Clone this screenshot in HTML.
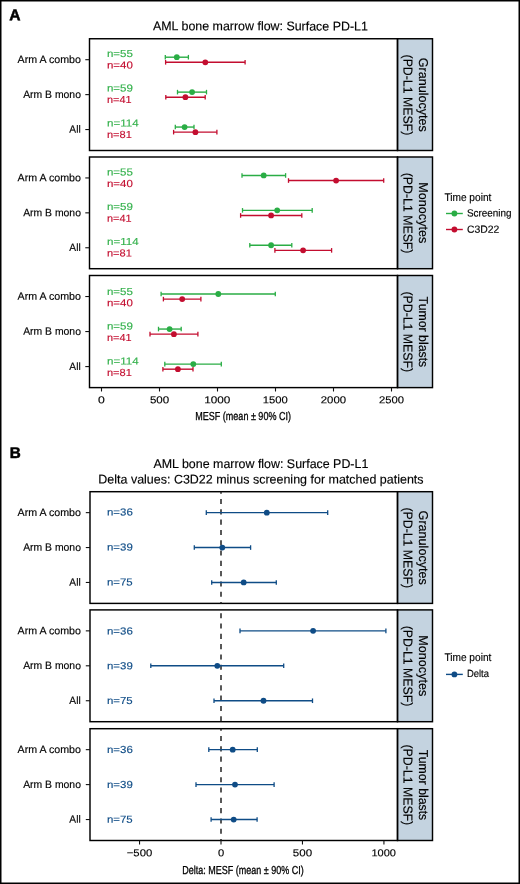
<!DOCTYPE html>
<html><head><meta charset="utf-8"><style>
html,body{margin:0;padding:0;background:#fff;}
svg{display:block;will-change:transform;}
text{font-family:"Liberation Sans",sans-serif;}
</style></head><body>
<svg width="520" height="884" viewBox="0 0 520 884" font-family="Liberation Sans, sans-serif">
<rect x="0" y="0" width="520" height="884" fill="#fff" stroke="#000" stroke-width="3"/>
<text transform="translate(9.36,20.25) rotate(0.03)" font-size="15.6" font-weight="bold" fill="#000" textLength="11.32" lengthAdjust="spacingAndGlyphs" stroke="#000" stroke-width="0.55" stroke-linejoin="round">A</text>
<text transform="translate(152.94,30.3) rotate(0.03)" font-size="12.6" font-weight="normal" fill="#000" textLength="214.97" lengthAdjust="spacingAndGlyphs" stroke="#000" stroke-width="0.15">AML bone marrow flow: Surface PD-L1</text>
<rect x="397.5" y="38.75" width="35" height="111.75" fill="#c4d3e0" stroke="#000" stroke-width="1.45"/>
<rect x="89.5" y="38.75" width="308" height="111.75" fill="none" stroke="#000" stroke-width="1.45"/>
<line x1="85.3" y1="59.7" x2="89.5" y2="59.7" stroke="#111" stroke-width="1.1"/>
<text transform="translate(17.55,63) rotate(0.03)" font-size="10.7" font-weight="normal" fill="#000" textLength="63.4" lengthAdjust="spacingAndGlyphs" stroke="#000" stroke-width="0.15">Arm A combo</text>
<line x1="85.3" y1="94.62" x2="89.5" y2="94.62" stroke="#111" stroke-width="1.1"/>
<text transform="translate(23.15,97.92) rotate(0.03)" font-size="10.7" font-weight="normal" fill="#000" textLength="57.79" lengthAdjust="spacingAndGlyphs" stroke="#000" stroke-width="0.15">Arm B mono</text>
<line x1="85.3" y1="129.55" x2="89.5" y2="129.55" stroke="#111" stroke-width="1.1"/>
<text transform="translate(69.35,132.85) rotate(0.03)" font-size="10.7" font-weight="normal" fill="#000" textLength="11.33" lengthAdjust="spacingAndGlyphs" stroke="#000" stroke-width="0.15">All</text>
<text transform="translate(419,57.64) rotate(90.03)" font-size="12.9" font-weight="normal" fill="#000" textLength="74.29" lengthAdjust="spacingAndGlyphs" stroke="#000" stroke-width="0.15">Granulocytes</text>
<text transform="translate(403.6,54.54) rotate(90.03)" font-size="12.9" font-weight="normal" fill="#000" textLength="80.7" lengthAdjust="spacingAndGlyphs" stroke="#000" stroke-width="0.15">(PD-L1 MESF)</text>
<line x1="165.3" y1="57.2" x2="188.4" y2="57.2" stroke="#2aad45" stroke-width="1.4"/>
<line x1="165.3" y1="54.9" x2="165.3" y2="59.5" stroke="#2aad45" stroke-width="1.3"/>
<line x1="188.4" y1="54.9" x2="188.4" y2="59.5" stroke="#2aad45" stroke-width="1.3"/>
<circle cx="176.8" cy="57.2" r="2.9" fill="#2aad45"/>
<line x1="165.6" y1="62.3" x2="245.1" y2="62.3" stroke="#c30d2f" stroke-width="1.4"/>
<line x1="165.6" y1="60" x2="165.6" y2="64.6" stroke="#c30d2f" stroke-width="1.3"/>
<line x1="245.1" y1="60" x2="245.1" y2="64.6" stroke="#c30d2f" stroke-width="1.3"/>
<circle cx="205.3" cy="62.3" r="2.9" fill="#c30d2f"/>
<line x1="177.5" y1="92.12" x2="206.5" y2="92.12" stroke="#2aad45" stroke-width="1.4"/>
<line x1="177.5" y1="89.83" x2="177.5" y2="94.42" stroke="#2aad45" stroke-width="1.3"/>
<line x1="206.5" y1="89.83" x2="206.5" y2="94.42" stroke="#2aad45" stroke-width="1.3"/>
<circle cx="192.1" cy="92.12" r="2.9" fill="#2aad45"/>
<line x1="165.8" y1="97.22" x2="205.2" y2="97.22" stroke="#c30d2f" stroke-width="1.4"/>
<line x1="165.8" y1="94.92" x2="165.8" y2="99.52" stroke="#c30d2f" stroke-width="1.3"/>
<line x1="205.2" y1="94.92" x2="205.2" y2="99.52" stroke="#c30d2f" stroke-width="1.3"/>
<circle cx="185.4" cy="97.22" r="2.9" fill="#c30d2f"/>
<line x1="175.3" y1="127.05" x2="194" y2="127.05" stroke="#2aad45" stroke-width="1.4"/>
<line x1="175.3" y1="124.75" x2="175.3" y2="129.35" stroke="#2aad45" stroke-width="1.3"/>
<line x1="194" y1="124.75" x2="194" y2="129.35" stroke="#2aad45" stroke-width="1.3"/>
<circle cx="184.6" cy="127.05" r="2.9" fill="#2aad45"/>
<line x1="173.6" y1="132.15" x2="216.9" y2="132.15" stroke="#c30d2f" stroke-width="1.4"/>
<line x1="173.6" y1="129.85" x2="173.6" y2="134.45" stroke="#c30d2f" stroke-width="1.3"/>
<line x1="216.9" y1="129.85" x2="216.9" y2="134.45" stroke="#c30d2f" stroke-width="1.3"/>
<circle cx="195.4" cy="132.15" r="2.9" fill="#c30d2f"/>
<text transform="translate(106.95,57.05) rotate(0.03)" font-size="10.2" font-weight="normal" fill="#34b14c" textLength="25.94" lengthAdjust="spacingAndGlyphs" stroke="#34b14c" stroke-width="0.15">n=55</text>
<text transform="translate(106.95,68.4) rotate(0.03)" font-size="10.2" font-weight="normal" fill="#c30d2f" textLength="25.94" lengthAdjust="spacingAndGlyphs" stroke="#c30d2f" stroke-width="0.15">n=40</text>
<text transform="translate(106.95,91.6) rotate(0.03)" font-size="10.2" font-weight="normal" fill="#34b14c" textLength="26" lengthAdjust="spacingAndGlyphs" stroke="#34b14c" stroke-width="0.15">n=59</text>
<text transform="translate(106.99,103.1) rotate(0.03)" font-size="10.2" font-weight="normal" fill="#c30d2f" textLength="24.58" lengthAdjust="spacingAndGlyphs" stroke="#c30d2f" stroke-width="0.15">n=41</text>
<text transform="translate(106.95,126.5) rotate(0.03)" font-size="10.2" font-weight="normal" fill="#34b14c" textLength="31.69" lengthAdjust="spacingAndGlyphs" stroke="#34b14c" stroke-width="0.15">n=114</text>
<text transform="translate(106.98,137.9) rotate(0.03)" font-size="10.2" font-weight="normal" fill="#c30d2f" textLength="24.85" lengthAdjust="spacingAndGlyphs" stroke="#c30d2f" stroke-width="0.15">n=81</text>
<rect x="397.5" y="157" width="35" height="111.7" fill="#c4d3e0" stroke="#000" stroke-width="1.45"/>
<rect x="89.5" y="157" width="308" height="111.7" fill="none" stroke="#000" stroke-width="1.45"/>
<line x1="85.3" y1="177.94" x2="89.5" y2="177.94" stroke="#111" stroke-width="1.1"/>
<text transform="translate(17.55,181.24) rotate(0.03)" font-size="10.7" font-weight="normal" fill="#000" textLength="63.4" lengthAdjust="spacingAndGlyphs" stroke="#000" stroke-width="0.15">Arm A combo</text>
<line x1="85.3" y1="212.85" x2="89.5" y2="212.85" stroke="#111" stroke-width="1.1"/>
<text transform="translate(23.15,216.15) rotate(0.03)" font-size="10.7" font-weight="normal" fill="#000" textLength="57.79" lengthAdjust="spacingAndGlyphs" stroke="#000" stroke-width="0.15">Arm B mono</text>
<line x1="85.3" y1="247.76" x2="89.5" y2="247.76" stroke="#111" stroke-width="1.1"/>
<text transform="translate(69.35,251.06) rotate(0.03)" font-size="10.7" font-weight="normal" fill="#000" textLength="11.33" lengthAdjust="spacingAndGlyphs" stroke="#000" stroke-width="0.15">All</text>
<text transform="translate(419,182.24) rotate(90.03)" font-size="12.9" font-weight="normal" fill="#000" textLength="61.16" lengthAdjust="spacingAndGlyphs" stroke="#000" stroke-width="0.15">Monocytes</text>
<text transform="translate(403.6,172.76) rotate(90.03)" font-size="12.9" font-weight="normal" fill="#000" textLength="80.7" lengthAdjust="spacingAndGlyphs" stroke="#000" stroke-width="0.15">(PD-L1 MESF)</text>
<line x1="242" y1="175.44" x2="285.6" y2="175.44" stroke="#2aad45" stroke-width="1.4"/>
<line x1="242" y1="173.14" x2="242" y2="177.74" stroke="#2aad45" stroke-width="1.3"/>
<line x1="285.6" y1="173.14" x2="285.6" y2="177.74" stroke="#2aad45" stroke-width="1.3"/>
<circle cx="263.7" cy="175.44" r="2.9" fill="#2aad45"/>
<line x1="288.5" y1="180.54" x2="383.7" y2="180.54" stroke="#c30d2f" stroke-width="1.4"/>
<line x1="288.5" y1="178.24" x2="288.5" y2="182.84" stroke="#c30d2f" stroke-width="1.3"/>
<line x1="383.7" y1="178.24" x2="383.7" y2="182.84" stroke="#c30d2f" stroke-width="1.3"/>
<circle cx="336.1" cy="180.54" r="2.9" fill="#c30d2f"/>
<line x1="242.5" y1="210.35" x2="312.2" y2="210.35" stroke="#2aad45" stroke-width="1.4"/>
<line x1="242.5" y1="208.05" x2="242.5" y2="212.65" stroke="#2aad45" stroke-width="1.3"/>
<line x1="312.2" y1="208.05" x2="312.2" y2="212.65" stroke="#2aad45" stroke-width="1.3"/>
<circle cx="277.2" cy="210.35" r="2.9" fill="#2aad45"/>
<line x1="240.6" y1="215.45" x2="301.8" y2="215.45" stroke="#c30d2f" stroke-width="1.4"/>
<line x1="240.6" y1="213.15" x2="240.6" y2="217.75" stroke="#c30d2f" stroke-width="1.3"/>
<line x1="301.8" y1="213.15" x2="301.8" y2="217.75" stroke="#c30d2f" stroke-width="1.3"/>
<circle cx="271.1" cy="215.45" r="2.9" fill="#c30d2f"/>
<line x1="249.8" y1="245.26" x2="291.8" y2="245.26" stroke="#2aad45" stroke-width="1.4"/>
<line x1="249.8" y1="242.96" x2="249.8" y2="247.56" stroke="#2aad45" stroke-width="1.3"/>
<line x1="291.8" y1="242.96" x2="291.8" y2="247.56" stroke="#2aad45" stroke-width="1.3"/>
<circle cx="271.1" cy="245.26" r="2.9" fill="#2aad45"/>
<line x1="274.9" y1="250.36" x2="331.6" y2="250.36" stroke="#c30d2f" stroke-width="1.4"/>
<line x1="274.9" y1="248.06" x2="274.9" y2="252.66" stroke="#c30d2f" stroke-width="1.3"/>
<line x1="331.6" y1="248.06" x2="331.6" y2="252.66" stroke="#c30d2f" stroke-width="1.3"/>
<circle cx="303.1" cy="250.36" r="2.9" fill="#c30d2f"/>
<text transform="translate(106.95,175.4) rotate(0.03)" font-size="10.2" font-weight="normal" fill="#34b14c" textLength="25.94" lengthAdjust="spacingAndGlyphs" stroke="#34b14c" stroke-width="0.15">n=55</text>
<text transform="translate(106.95,186.9) rotate(0.03)" font-size="10.2" font-weight="normal" fill="#c30d2f" textLength="25.94" lengthAdjust="spacingAndGlyphs" stroke="#c30d2f" stroke-width="0.15">n=40</text>
<text transform="translate(106.95,210) rotate(0.03)" font-size="10.2" font-weight="normal" fill="#34b14c" textLength="26" lengthAdjust="spacingAndGlyphs" stroke="#34b14c" stroke-width="0.15">n=59</text>
<text transform="translate(106.99,221.7) rotate(0.03)" font-size="10.2" font-weight="normal" fill="#c30d2f" textLength="24.58" lengthAdjust="spacingAndGlyphs" stroke="#c30d2f" stroke-width="0.15">n=41</text>
<text transform="translate(106.95,245.1) rotate(0.03)" font-size="10.2" font-weight="normal" fill="#34b14c" textLength="31.69" lengthAdjust="spacingAndGlyphs" stroke="#34b14c" stroke-width="0.15">n=114</text>
<text transform="translate(106.98,256.6) rotate(0.03)" font-size="10.2" font-weight="normal" fill="#c30d2f" textLength="24.85" lengthAdjust="spacingAndGlyphs" stroke="#c30d2f" stroke-width="0.15">n=81</text>
<rect x="397.5" y="275.5" width="35" height="112.1" fill="#c4d3e0" stroke="#000" stroke-width="1.45"/>
<rect x="89.5" y="275.5" width="308" height="112.1" fill="none" stroke="#000" stroke-width="1.45"/>
<line x1="85.3" y1="296.52" x2="89.5" y2="296.52" stroke="#111" stroke-width="1.1"/>
<text transform="translate(17.55,299.82) rotate(0.03)" font-size="10.7" font-weight="normal" fill="#000" textLength="63.4" lengthAdjust="spacingAndGlyphs" stroke="#000" stroke-width="0.15">Arm A combo</text>
<line x1="85.3" y1="331.55" x2="89.5" y2="331.55" stroke="#111" stroke-width="1.1"/>
<text transform="translate(23.15,334.85) rotate(0.03)" font-size="10.7" font-weight="normal" fill="#000" textLength="57.79" lengthAdjust="spacingAndGlyphs" stroke="#000" stroke-width="0.15">Arm B mono</text>
<line x1="85.3" y1="366.58" x2="89.5" y2="366.58" stroke="#111" stroke-width="1.1"/>
<text transform="translate(69.35,369.88) rotate(0.03)" font-size="10.7" font-weight="normal" fill="#000" textLength="11.33" lengthAdjust="spacingAndGlyphs" stroke="#000" stroke-width="0.15">All</text>
<text transform="translate(419,296.6) rotate(90.03)" font-size="12.9" font-weight="normal" fill="#000" textLength="70.61" lengthAdjust="spacingAndGlyphs" stroke="#000" stroke-width="0.15">Tumor blasts</text>
<text transform="translate(403.6,291.46) rotate(90.03)" font-size="12.9" font-weight="normal" fill="#000" textLength="80.7" lengthAdjust="spacingAndGlyphs" stroke="#000" stroke-width="0.15">(PD-L1 MESF)</text>
<line x1="161.1" y1="294.02" x2="275.3" y2="294.02" stroke="#2aad45" stroke-width="1.4"/>
<line x1="161.1" y1="291.72" x2="161.1" y2="296.32" stroke="#2aad45" stroke-width="1.3"/>
<line x1="275.3" y1="291.72" x2="275.3" y2="296.32" stroke="#2aad45" stroke-width="1.3"/>
<circle cx="218.3" cy="294.02" r="2.9" fill="#2aad45"/>
<line x1="163.4" y1="299.12" x2="200.9" y2="299.12" stroke="#c30d2f" stroke-width="1.4"/>
<line x1="163.4" y1="296.82" x2="163.4" y2="301.42" stroke="#c30d2f" stroke-width="1.3"/>
<line x1="200.9" y1="296.82" x2="200.9" y2="301.42" stroke="#c30d2f" stroke-width="1.3"/>
<circle cx="182.2" cy="299.12" r="2.9" fill="#c30d2f"/>
<line x1="158.5" y1="329.05" x2="181.2" y2="329.05" stroke="#2aad45" stroke-width="1.4"/>
<line x1="158.5" y1="326.75" x2="158.5" y2="331.35" stroke="#2aad45" stroke-width="1.3"/>
<line x1="181.2" y1="326.75" x2="181.2" y2="331.35" stroke="#2aad45" stroke-width="1.3"/>
<circle cx="169.6" cy="329.05" r="2.9" fill="#2aad45"/>
<line x1="150" y1="334.15" x2="197.9" y2="334.15" stroke="#c30d2f" stroke-width="1.4"/>
<line x1="150" y1="331.85" x2="150" y2="336.45" stroke="#c30d2f" stroke-width="1.3"/>
<line x1="197.9" y1="331.85" x2="197.9" y2="336.45" stroke="#c30d2f" stroke-width="1.3"/>
<circle cx="173.9" cy="334.15" r="2.9" fill="#c30d2f"/>
<line x1="164.8" y1="364.08" x2="221.3" y2="364.08" stroke="#2aad45" stroke-width="1.4"/>
<line x1="164.8" y1="361.78" x2="164.8" y2="366.38" stroke="#2aad45" stroke-width="1.3"/>
<line x1="221.3" y1="361.78" x2="221.3" y2="366.38" stroke="#2aad45" stroke-width="1.3"/>
<circle cx="193.3" cy="364.08" r="2.9" fill="#2aad45"/>
<line x1="162.9" y1="369.18" x2="193" y2="369.18" stroke="#c30d2f" stroke-width="1.4"/>
<line x1="162.9" y1="366.88" x2="162.9" y2="371.48" stroke="#c30d2f" stroke-width="1.3"/>
<line x1="193" y1="366.88" x2="193" y2="371.48" stroke="#c30d2f" stroke-width="1.3"/>
<circle cx="177.9" cy="369.18" r="2.9" fill="#c30d2f"/>
<text transform="translate(106.95,294.9) rotate(0.03)" font-size="10.2" font-weight="normal" fill="#34b14c" textLength="25.94" lengthAdjust="spacingAndGlyphs" stroke="#34b14c" stroke-width="0.15">n=55</text>
<text transform="translate(106.95,306.2) rotate(0.03)" font-size="10.2" font-weight="normal" fill="#c30d2f" textLength="25.94" lengthAdjust="spacingAndGlyphs" stroke="#c30d2f" stroke-width="0.15">n=40</text>
<text transform="translate(106.95,329.5) rotate(0.03)" font-size="10.2" font-weight="normal" fill="#34b14c" textLength="26" lengthAdjust="spacingAndGlyphs" stroke="#34b14c" stroke-width="0.15">n=59</text>
<text transform="translate(106.99,341) rotate(0.03)" font-size="10.2" font-weight="normal" fill="#c30d2f" textLength="24.58" lengthAdjust="spacingAndGlyphs" stroke="#c30d2f" stroke-width="0.15">n=41</text>
<text transform="translate(106.95,364.6) rotate(0.03)" font-size="10.2" font-weight="normal" fill="#34b14c" textLength="31.69" lengthAdjust="spacingAndGlyphs" stroke="#34b14c" stroke-width="0.15">n=114</text>
<text transform="translate(106.98,375.9) rotate(0.03)" font-size="10.2" font-weight="normal" fill="#c30d2f" textLength="24.85" lengthAdjust="spacingAndGlyphs" stroke="#c30d2f" stroke-width="0.15">n=81</text>
<line x1="101.5" y1="387.6" x2="101.5" y2="391.5" stroke="#111" stroke-width="1.1"/>
<text transform="translate(98.11,403.3) rotate(0.03)" font-size="10" font-weight="normal" fill="#000" textLength="6.79" lengthAdjust="spacingAndGlyphs" stroke="#000" stroke-width="0.15">0</text>
<line x1="159.5" y1="387.6" x2="159.5" y2="391.5" stroke="#111" stroke-width="1.1"/>
<text transform="translate(149.89,403.3) rotate(0.03)" font-size="10" font-weight="normal" fill="#000" textLength="19.26" lengthAdjust="spacingAndGlyphs" stroke="#000" stroke-width="0.15">500</text>
<line x1="217.5" y1="387.6" x2="217.5" y2="391.5" stroke="#111" stroke-width="1.1"/>
<text transform="translate(204.22,403.3) rotate(0.03)" font-size="10" font-weight="normal" fill="#000" textLength="26.15" lengthAdjust="spacingAndGlyphs" stroke="#000" stroke-width="0.15">1000</text>
<line x1="275.5" y1="387.6" x2="275.5" y2="391.5" stroke="#111" stroke-width="1.1"/>
<text transform="translate(262.81,403.3) rotate(0.03)" font-size="10" font-weight="normal" fill="#000" textLength="24.99" lengthAdjust="spacingAndGlyphs" stroke="#000" stroke-width="0.15">1500</text>
<line x1="333.5" y1="387.6" x2="333.5" y2="391.5" stroke="#111" stroke-width="1.1"/>
<text transform="translate(320.78,403.3) rotate(0.03)" font-size="10" font-weight="normal" fill="#000" textLength="25.32" lengthAdjust="spacingAndGlyphs" stroke="#000" stroke-width="0.15">2000</text>
<line x1="391.5" y1="387.6" x2="391.5" y2="391.5" stroke="#111" stroke-width="1.1"/>
<text transform="translate(378.94,403.3) rotate(0.03)" font-size="10" font-weight="normal" fill="#000" textLength="25.01" lengthAdjust="spacingAndGlyphs" stroke="#000" stroke-width="0.15">2500</text>
<text transform="translate(195.28,420.1) rotate(0.03)" font-size="11.6" font-weight="normal" fill="#000" textLength="95.68" lengthAdjust="spacingAndGlyphs" stroke="#000" stroke-width="0.3">MESF (mean ± 90% CI)</text>
<text transform="translate(444.4,200.5) rotate(0.03)" font-size="11.2" font-weight="normal" fill="#000" textLength="46.97" lengthAdjust="spacingAndGlyphs" stroke="#000" stroke-width="0.15">Time point</text>
<line x1="446" y1="213.5" x2="462.8" y2="213.5" stroke="#2aad45" stroke-width="1.4"/>
<circle cx="454.4" cy="213.5" r="2.9" fill="#2aad45"/>
<text transform="translate(466.95,216.5) rotate(0.03)" font-size="10.4" font-weight="normal" fill="#000" textLength="44.62" lengthAdjust="spacingAndGlyphs" stroke="#000" stroke-width="0.15">Screening</text>
<line x1="446" y1="229.5" x2="462.8" y2="229.5" stroke="#c30d2f" stroke-width="1.4"/>
<circle cx="454.4" cy="229.5" r="2.9" fill="#c30d2f"/>
<text transform="translate(466.88,232.8) rotate(0.03)" font-size="10.4" font-weight="normal" fill="#000" textLength="32.47" lengthAdjust="spacingAndGlyphs" stroke="#000" stroke-width="0.15">C3D22</text>
<text transform="translate(9.66,458.05) rotate(0.03)" font-size="15.4" font-weight="bold" fill="#000" textLength="11.01" lengthAdjust="spacingAndGlyphs" stroke="#000" stroke-width="0.55" stroke-linejoin="round">B</text>
<text transform="translate(153.44,468) rotate(0.03)" font-size="12.6" font-weight="normal" fill="#000" textLength="214.87" lengthAdjust="spacingAndGlyphs" stroke="#000" stroke-width="0.15">AML bone marrow flow: Surface PD-L1</text>
<text transform="translate(98.3,483.4) rotate(0.03)" font-size="12.6" font-weight="normal" fill="#000" textLength="325.23" lengthAdjust="spacingAndGlyphs" stroke="#000" stroke-width="0.15">Delta values: C3D22 minus screening for matched patients</text>
<rect x="397.5" y="491.7" width="35" height="111.7" fill="#c4d3e0" stroke="#000" stroke-width="1.45"/>
<rect x="90" y="491.7" width="307.5" height="111.7" fill="none" stroke="#000" stroke-width="1.45"/>
<line x1="85.8" y1="512.64" x2="90" y2="512.64" stroke="#111" stroke-width="1.1"/>
<text transform="translate(17.55,515.94) rotate(0.03)" font-size="10.7" font-weight="normal" fill="#000" textLength="63.4" lengthAdjust="spacingAndGlyphs" stroke="#000" stroke-width="0.15">Arm A combo</text>
<line x1="85.8" y1="547.55" x2="90" y2="547.55" stroke="#111" stroke-width="1.1"/>
<text transform="translate(23.15,550.85) rotate(0.03)" font-size="10.7" font-weight="normal" fill="#000" textLength="57.79" lengthAdjust="spacingAndGlyphs" stroke="#000" stroke-width="0.15">Arm B mono</text>
<line x1="85.8" y1="582.46" x2="90" y2="582.46" stroke="#111" stroke-width="1.1"/>
<text transform="translate(69.35,585.76) rotate(0.03)" font-size="10.7" font-weight="normal" fill="#000" textLength="11.33" lengthAdjust="spacingAndGlyphs" stroke="#000" stroke-width="0.15">All</text>
<text transform="translate(419,510.57) rotate(90.03)" font-size="12.9" font-weight="normal" fill="#000" textLength="74.29" lengthAdjust="spacingAndGlyphs" stroke="#000" stroke-width="0.15">Granulocytes</text>
<text transform="translate(403.6,507.46) rotate(90.03)" font-size="12.9" font-weight="normal" fill="#000" textLength="80.7" lengthAdjust="spacingAndGlyphs" stroke="#000" stroke-width="0.15">(PD-L1 MESF)</text>
<line x1="221.0" y1="491.7" x2="221.0" y2="603.4" stroke="#222" stroke-width="1.5" stroke-dasharray="5.1 5.2" stroke-dashoffset="3.0"/>
<line x1="206.3" y1="512.64" x2="327.7" y2="512.64" stroke="#0f4c86" stroke-width="1.4"/>
<line x1="206.3" y1="510.34" x2="206.3" y2="514.94" stroke="#0f4c86" stroke-width="1.3"/>
<line x1="327.7" y1="510.34" x2="327.7" y2="514.94" stroke="#0f4c86" stroke-width="1.3"/>
<circle cx="266.8" cy="512.64" r="2.9" fill="#0f4c86"/>
<line x1="194.3" y1="547.55" x2="250.6" y2="547.55" stroke="#0f4c86" stroke-width="1.4"/>
<line x1="194.3" y1="545.25" x2="194.3" y2="549.85" stroke="#0f4c86" stroke-width="1.3"/>
<line x1="250.6" y1="545.25" x2="250.6" y2="549.85" stroke="#0f4c86" stroke-width="1.3"/>
<circle cx="222.3" cy="547.55" r="2.9" fill="#0f4c86"/>
<line x1="211.7" y1="582.46" x2="276.3" y2="582.46" stroke="#0f4c86" stroke-width="1.4"/>
<line x1="211.7" y1="580.16" x2="211.7" y2="584.76" stroke="#0f4c86" stroke-width="1.3"/>
<line x1="276.3" y1="580.16" x2="276.3" y2="584.76" stroke="#0f4c86" stroke-width="1.3"/>
<circle cx="243.7" cy="582.46" r="2.9" fill="#0f4c86"/>
<text transform="translate(106.96,515.6) rotate(0.03)" font-size="10.2" font-weight="normal" fill="#0f4c86" textLength="25.79" lengthAdjust="spacingAndGlyphs" stroke="#0f4c86" stroke-width="0.15">n=36</text>
<text transform="translate(106.96,550.5) rotate(0.03)" font-size="10.2" font-weight="normal" fill="#0f4c86" textLength="25.79" lengthAdjust="spacingAndGlyphs" stroke="#0f4c86" stroke-width="0.15">n=39</text>
<text transform="translate(106.96,585.6) rotate(0.03)" font-size="10.2" font-weight="normal" fill="#0f4c86" textLength="25.73" lengthAdjust="spacingAndGlyphs" stroke="#0f4c86" stroke-width="0.15">n=75</text>
<rect x="397.5" y="609.9" width="35" height="111.8" fill="#c4d3e0" stroke="#000" stroke-width="1.45"/>
<rect x="90" y="609.9" width="307.5" height="111.8" fill="none" stroke="#000" stroke-width="1.45"/>
<line x1="85.8" y1="630.86" x2="90" y2="630.86" stroke="#111" stroke-width="1.1"/>
<text transform="translate(17.55,634.16) rotate(0.03)" font-size="10.7" font-weight="normal" fill="#000" textLength="63.4" lengthAdjust="spacingAndGlyphs" stroke="#000" stroke-width="0.15">Arm A combo</text>
<line x1="85.8" y1="665.8" x2="90" y2="665.8" stroke="#111" stroke-width="1.1"/>
<text transform="translate(23.15,669.1) rotate(0.03)" font-size="10.7" font-weight="normal" fill="#000" textLength="57.79" lengthAdjust="spacingAndGlyphs" stroke="#000" stroke-width="0.15">Arm B mono</text>
<line x1="85.8" y1="700.74" x2="90" y2="700.74" stroke="#111" stroke-width="1.1"/>
<text transform="translate(69.35,704.04) rotate(0.03)" font-size="10.7" font-weight="normal" fill="#000" textLength="11.33" lengthAdjust="spacingAndGlyphs" stroke="#000" stroke-width="0.15">All</text>
<text transform="translate(419,635.19) rotate(90.03)" font-size="12.9" font-weight="normal" fill="#000" textLength="61.16" lengthAdjust="spacingAndGlyphs" stroke="#000" stroke-width="0.15">Monocytes</text>
<text transform="translate(403.6,625.71) rotate(90.03)" font-size="12.9" font-weight="normal" fill="#000" textLength="80.7" lengthAdjust="spacingAndGlyphs" stroke="#000" stroke-width="0.15">(PD-L1 MESF)</text>
<line x1="221.0" y1="609.9" x2="221.0" y2="721.7" stroke="#222" stroke-width="1.5" stroke-dasharray="5.1 5.2" stroke-dashoffset="7.0"/>
<line x1="240" y1="630.86" x2="385.9" y2="630.86" stroke="#0f4c86" stroke-width="1.4"/>
<line x1="240" y1="628.56" x2="240" y2="633.16" stroke="#0f4c86" stroke-width="1.3"/>
<line x1="385.9" y1="628.56" x2="385.9" y2="633.16" stroke="#0f4c86" stroke-width="1.3"/>
<circle cx="313.1" cy="630.86" r="2.9" fill="#0f4c86"/>
<line x1="150.8" y1="665.8" x2="283.7" y2="665.8" stroke="#0f4c86" stroke-width="1.4"/>
<line x1="150.8" y1="663.5" x2="150.8" y2="668.1" stroke="#0f4c86" stroke-width="1.3"/>
<line x1="283.7" y1="663.5" x2="283.7" y2="668.1" stroke="#0f4c86" stroke-width="1.3"/>
<circle cx="217.3" cy="665.8" r="2.9" fill="#0f4c86"/>
<line x1="214" y1="700.74" x2="312.5" y2="700.74" stroke="#0f4c86" stroke-width="1.4"/>
<line x1="214" y1="698.44" x2="214" y2="703.04" stroke="#0f4c86" stroke-width="1.3"/>
<line x1="312.5" y1="698.44" x2="312.5" y2="703.04" stroke="#0f4c86" stroke-width="1.3"/>
<circle cx="263.5" cy="700.74" r="2.9" fill="#0f4c86"/>
<text transform="translate(106.96,634.4) rotate(0.03)" font-size="10.2" font-weight="normal" fill="#0f4c86" textLength="25.79" lengthAdjust="spacingAndGlyphs" stroke="#0f4c86" stroke-width="0.15">n=36</text>
<text transform="translate(106.96,669.2) rotate(0.03)" font-size="10.2" font-weight="normal" fill="#0f4c86" textLength="25.79" lengthAdjust="spacingAndGlyphs" stroke="#0f4c86" stroke-width="0.15">n=39</text>
<text transform="translate(106.96,704.1) rotate(0.03)" font-size="10.2" font-weight="normal" fill="#0f4c86" textLength="25.73" lengthAdjust="spacingAndGlyphs" stroke="#0f4c86" stroke-width="0.15">n=75</text>
<rect x="397.5" y="728.7" width="35" height="111.8" fill="#c4d3e0" stroke="#000" stroke-width="1.45"/>
<rect x="90" y="728.7" width="307.5" height="111.8" fill="none" stroke="#000" stroke-width="1.45"/>
<line x1="85.8" y1="749.66" x2="90" y2="749.66" stroke="#111" stroke-width="1.1"/>
<text transform="translate(17.55,752.96) rotate(0.03)" font-size="10.7" font-weight="normal" fill="#000" textLength="63.4" lengthAdjust="spacingAndGlyphs" stroke="#000" stroke-width="0.15">Arm A combo</text>
<line x1="85.8" y1="784.6" x2="90" y2="784.6" stroke="#111" stroke-width="1.1"/>
<text transform="translate(23.15,787.9) rotate(0.03)" font-size="10.7" font-weight="normal" fill="#000" textLength="57.79" lengthAdjust="spacingAndGlyphs" stroke="#000" stroke-width="0.15">Arm B mono</text>
<line x1="85.8" y1="819.54" x2="90" y2="819.54" stroke="#111" stroke-width="1.1"/>
<text transform="translate(69.35,822.84) rotate(0.03)" font-size="10.7" font-weight="normal" fill="#000" textLength="11.33" lengthAdjust="spacingAndGlyphs" stroke="#000" stroke-width="0.15">All</text>
<text transform="translate(419,749.65) rotate(90.03)" font-size="12.9" font-weight="normal" fill="#000" textLength="70.61" lengthAdjust="spacingAndGlyphs" stroke="#000" stroke-width="0.15">Tumor blasts</text>
<text transform="translate(403.6,744.51) rotate(90.03)" font-size="12.9" font-weight="normal" fill="#000" textLength="80.7" lengthAdjust="spacingAndGlyphs" stroke="#000" stroke-width="0.15">(PD-L1 MESF)</text>
<line x1="221.0" y1="728.7" x2="221.0" y2="840.5" stroke="#222" stroke-width="1.5" stroke-dasharray="5.1 5.2" stroke-dashoffset="3.0"/>
<line x1="208.8" y1="749.66" x2="257.3" y2="749.66" stroke="#0f4c86" stroke-width="1.4"/>
<line x1="208.8" y1="747.36" x2="208.8" y2="751.96" stroke="#0f4c86" stroke-width="1.3"/>
<line x1="257.3" y1="747.36" x2="257.3" y2="751.96" stroke="#0f4c86" stroke-width="1.3"/>
<circle cx="232.7" cy="749.66" r="2.9" fill="#0f4c86"/>
<line x1="196" y1="784.6" x2="274.1" y2="784.6" stroke="#0f4c86" stroke-width="1.4"/>
<line x1="196" y1="782.3" x2="196" y2="786.9" stroke="#0f4c86" stroke-width="1.3"/>
<line x1="274.1" y1="782.3" x2="274.1" y2="786.9" stroke="#0f4c86" stroke-width="1.3"/>
<circle cx="235" cy="784.6" r="2.9" fill="#0f4c86"/>
<line x1="211.1" y1="819.54" x2="257.1" y2="819.54" stroke="#0f4c86" stroke-width="1.4"/>
<line x1="211.1" y1="817.24" x2="211.1" y2="821.84" stroke="#0f4c86" stroke-width="1.3"/>
<line x1="257.1" y1="817.24" x2="257.1" y2="821.84" stroke="#0f4c86" stroke-width="1.3"/>
<circle cx="233.7" cy="819.54" r="2.9" fill="#0f4c86"/>
<text transform="translate(106.96,753) rotate(0.03)" font-size="10.2" font-weight="normal" fill="#0f4c86" textLength="25.79" lengthAdjust="spacingAndGlyphs" stroke="#0f4c86" stroke-width="0.15">n=36</text>
<text transform="translate(106.96,787.9) rotate(0.03)" font-size="10.2" font-weight="normal" fill="#0f4c86" textLength="25.79" lengthAdjust="spacingAndGlyphs" stroke="#0f4c86" stroke-width="0.15">n=39</text>
<text transform="translate(106.96,822.7) rotate(0.03)" font-size="10.2" font-weight="normal" fill="#0f4c86" textLength="25.73" lengthAdjust="spacingAndGlyphs" stroke="#0f4c86" stroke-width="0.15">n=75</text>
<line x1="139.54" y1="840.5" x2="139.54" y2="844.5" stroke="#111" stroke-width="1.1"/>
<text transform="translate(126.77,856.3) rotate(0.03)" font-size="10" font-weight="normal" fill="#000" textLength="25.44" lengthAdjust="spacingAndGlyphs" stroke="#000" stroke-width="0.15">−500</text>
<line x1="221" y1="840.5" x2="221" y2="844.5" stroke="#111" stroke-width="1.1"/>
<text transform="translate(217.9,856.3) rotate(0.03)" font-size="10" font-weight="normal" fill="#000" textLength="6.21" lengthAdjust="spacingAndGlyphs" stroke="#000" stroke-width="0.15">0</text>
<line x1="302.46" y1="840.5" x2="302.46" y2="844.5" stroke="#111" stroke-width="1.1"/>
<text transform="translate(292.85,856.3) rotate(0.03)" font-size="10" font-weight="normal" fill="#000" textLength="19.26" lengthAdjust="spacingAndGlyphs" stroke="#000" stroke-width="0.15">500</text>
<line x1="383.93" y1="840.5" x2="383.93" y2="844.5" stroke="#111" stroke-width="1.1"/>
<text transform="translate(371.51,856.3) rotate(0.03)" font-size="10" font-weight="normal" fill="#000" textLength="24.46" lengthAdjust="spacingAndGlyphs" stroke="#000" stroke-width="0.15">1000</text>
<text transform="translate(182.28,874.1) rotate(0.03)" font-size="11.6" font-weight="normal" fill="#000" textLength="121.48" lengthAdjust="spacingAndGlyphs" stroke="#000" stroke-width="0.3">Delta: MESF (mean ± 90% CI)</text>
<text transform="translate(444.4,661.3) rotate(0.03)" font-size="11.2" font-weight="normal" fill="#000" textLength="46.97" lengthAdjust="spacingAndGlyphs" stroke="#000" stroke-width="0.15">Time point</text>
<line x1="446" y1="674.4" x2="462.8" y2="674.4" stroke="#0f4c86" stroke-width="1.4"/>
<circle cx="454.4" cy="674.4" r="2.9" fill="#0f4c86"/>
<text transform="translate(466.94,677.1) rotate(0.03)" font-size="10.4" font-weight="normal" fill="#000" textLength="22.05" lengthAdjust="spacingAndGlyphs" stroke="#000" stroke-width="0.15">Delta</text>
</svg>
</body></html>
